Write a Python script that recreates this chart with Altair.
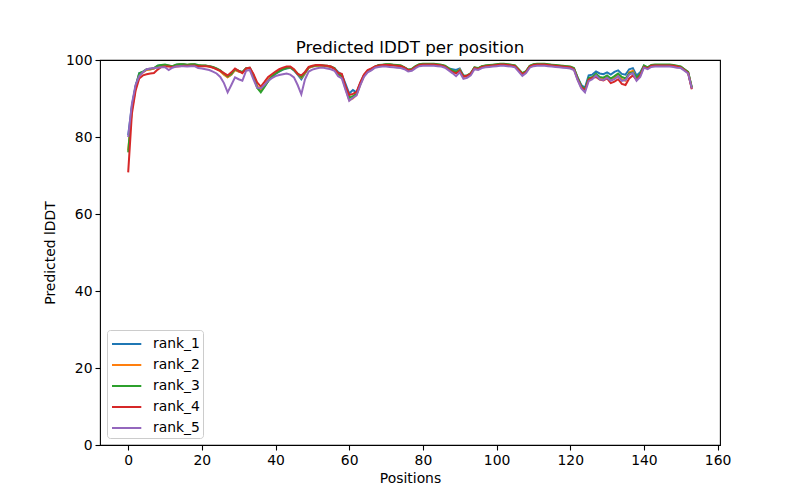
import altair as alt
import pandas as pd

positions = list(range(154))

rank_1 = [
    80.5, 88.0, 93.2, 96.6, 96.9, 97.5, 97.6, 97.8, 98.5, 98.7,
    98.7, 98.5, 98.3, 98.8, 98.9, 98.9, 98.7, 98.8, 98.9, 98.6,
    98.5, 98.5, 98.4, 98.1, 97.7, 97.2, 96.3, 95.6, 96.2, 97.5,
    97.0, 96.8, 97.8, 97.9, 96.0, 93.0, 92.0, 93.2, 94.5, 95.6,
    96.4, 97.0, 97.5, 97.8, 98.0, 97.3, 96.2, 95.0, 96.5, 98.0,
    98.3, 98.5, 98.6, 98.5, 98.4, 98.2, 97.8, 96.9, 96.2, 93.8,
    91.3, 92.2, 91.6, 94.0, 96.0, 97.0, 97.5, 98.2, 98.6, 98.7,
    98.8, 98.8, 98.7, 98.6, 98.5, 98.0, 97.5, 97.6, 98.3, 98.8,
    98.9, 98.9, 98.9, 98.9, 98.8, 98.7, 98.4, 97.8, 97.6, 97.4,
    97.8, 96.0, 95.9, 96.5, 98.0, 97.8, 98.3, 98.5, 98.6, 98.7,
    98.8, 98.9, 98.9, 98.8, 98.7, 98.5, 97.5, 96.5, 97.0, 98.4,
    98.8, 98.9, 98.9, 98.9, 98.8, 98.7, 98.6, 98.5, 98.4, 98.3,
    98.2, 97.8, 95.5, 93.5, 92.8, 96.0, 96.2, 97.0, 96.5, 96.3,
    96.8, 96.2, 96.9, 97.3, 96.4, 96.2, 97.6, 97.9, 96.0, 96.8,
    98.5, 98.0, 98.6, 98.7, 98.7, 98.7, 98.7, 98.7, 98.6, 98.4,
    98.2, 97.5, 96.8, 92.8,
]

rank_2 = [
    76.5, 87.0, 92.5, 96.2, 96.8, 97.4, 97.5, 97.8, 98.4, 98.6,
    98.7, 98.5, 98.3, 98.7, 98.8, 98.8, 98.7, 98.8, 98.8, 98.6,
    98.5, 98.5, 98.3, 98.1, 97.7, 97.1, 96.2, 95.5, 96.2, 97.4,
    97.0, 96.7, 97.7, 97.9, 96.0, 93.2, 92.2, 93.4, 94.8, 95.9,
    96.6, 97.2, 97.7, 98.0, 98.1, 97.5, 96.4, 95.4, 96.6, 98.0,
    98.3, 98.5, 98.6, 98.5, 98.4, 98.2, 97.8, 96.3, 95.6, 92.6,
    89.6, 90.0, 91.0, 93.6, 95.9, 97.0, 97.5, 98.2, 98.6, 98.7,
    98.8, 98.8, 98.7, 98.6, 98.5, 98.0, 97.4, 97.6, 98.3, 98.8,
    98.9, 98.9, 98.9, 98.9, 98.8, 98.7, 98.4, 97.7, 97.0, 96.7,
    97.5, 95.6, 95.8, 96.4, 98.0, 97.8, 98.3, 98.5, 98.6, 98.7,
    98.8, 98.9, 98.9, 98.8, 98.7, 98.5, 97.5, 96.4, 97.0, 98.4,
    98.8, 98.9, 98.9, 98.9, 98.8, 98.7, 98.6, 98.5, 98.4, 98.3,
    98.2, 97.8, 95.2, 93.0, 92.2, 95.0, 95.4, 96.0, 95.2, 95.0,
    95.6, 94.8, 95.3, 96.2, 95.0, 94.6, 96.8, 97.2, 95.0, 96.2,
    98.4, 98.0, 98.6, 98.7, 98.7, 98.7, 98.7, 98.7, 98.6, 98.4,
    98.2, 97.5, 96.8, 92.6,
]

rank_3 = [
    76.0, 87.5, 93.0, 96.5, 97.0, 97.6, 97.7, 97.9, 98.5, 98.7,
    98.8, 98.6, 98.4, 98.8, 98.9, 98.9, 98.8, 98.9, 98.9, 98.7,
    98.6, 98.6, 98.4, 98.2, 97.8, 97.3, 96.5, 95.8, 96.4, 97.6,
    97.2, 96.9, 97.9, 98.0, 96.0, 92.8, 91.6, 93.0, 94.5, 95.7,
    96.5, 97.1, 97.6, 97.9, 98.1, 97.4, 96.5, 95.6, 96.8, 98.1,
    98.4, 98.6, 98.7, 98.6, 98.5, 98.3, 97.9, 96.4, 95.8, 93.0,
    90.2, 90.6, 91.2, 93.8, 96.0, 97.1, 97.6, 98.3, 98.7, 98.8,
    98.9, 98.9, 98.8, 98.7, 98.6, 98.1, 97.5, 97.7, 98.4, 98.9,
    99.0, 99.0, 99.0, 99.0, 98.9, 98.8, 98.5, 97.9, 97.3, 96.9,
    97.4, 95.9, 96.0, 96.6, 98.1, 97.9, 98.4, 98.6, 98.7, 98.8,
    98.9, 99.0, 99.0, 98.9, 98.8, 98.6, 97.6, 96.6, 97.1, 98.5,
    98.9, 99.0, 99.0, 99.0, 98.9, 98.8, 98.7, 98.6, 98.5, 98.4,
    98.3, 97.9, 95.4, 93.2, 92.4, 95.3, 95.6, 96.4, 95.6, 95.4,
    96.0, 95.2, 95.8, 96.5, 95.6, 95.2, 96.5, 96.8, 95.5, 96.3,
    98.6, 98.1, 98.7, 98.8, 98.8, 98.8, 98.8, 98.8, 98.7, 98.5,
    98.3, 97.6, 96.9, 92.9,
]

rank_4 = [
    70.8, 86.0, 92.0, 95.2, 96.0, 96.3, 96.5, 96.6, 97.5, 98.2,
    98.3, 98.3, 98.2, 98.3, 98.4, 98.5, 98.5, 98.5, 98.6, 98.4,
    98.4, 98.4, 98.3, 98.0, 97.6, 97.2, 96.6, 96.0, 96.8, 97.8,
    97.2, 96.6, 97.8, 98.0, 96.4, 94.2, 93.1, 94.3, 95.6, 96.3,
    97.0, 97.6, 98.0, 98.3, 98.3, 97.6, 96.4, 96.0, 96.9, 98.2,
    98.5, 98.7, 98.7, 98.6, 98.5, 98.3, 97.7, 96.6, 96.4, 93.2,
    90.9, 91.2, 91.7, 94.2, 96.2, 97.4, 97.8, 98.3, 98.6, 98.7,
    98.7, 98.7, 98.6, 98.5, 98.4, 98.0, 97.4, 97.5, 98.2, 98.7,
    98.8, 98.8, 98.8, 98.8, 98.7, 98.6, 98.3, 97.6, 96.9, 96.5,
    97.2, 95.7, 95.9, 96.5, 97.9, 97.7, 98.2, 98.4, 98.5, 98.6,
    98.7, 98.8, 98.8, 98.7, 98.6, 98.4, 97.4, 96.3, 96.9, 98.3,
    98.7, 98.8, 98.8, 98.8, 98.7, 98.6, 98.5, 98.4, 98.3, 98.2,
    98.1, 97.6, 95.0, 92.9, 92.1, 94.9, 95.4, 95.6, 94.9, 94.7,
    95.2, 94.0, 94.4, 95.0, 93.8, 93.5, 95.2, 96.0, 94.8, 96.0,
    98.2, 97.8, 98.5, 98.6, 98.6, 98.6, 98.6, 98.6, 98.5, 98.3,
    98.1, 97.4, 96.6, 92.4,
]

rank_5 = [
    80.0, 88.5, 93.5, 95.8, 96.8, 97.6, 97.8, 97.9, 98.0, 98.1,
    98.1, 97.4, 98.0, 98.3, 98.4, 98.4, 98.3, 98.4, 98.4, 97.9,
    97.8, 97.6, 97.4, 97.0, 96.5, 95.6, 94.0, 91.6, 93.5, 95.5,
    95.0, 94.6, 97.2, 97.4, 95.0, 92.8, 92.6, 93.5, 94.6, 95.3,
    95.8, 96.1, 96.3, 96.5, 96.2, 95.5, 93.5, 91.1, 95.0, 97.0,
    97.5, 97.8, 98.0, 98.0, 97.8, 97.6, 97.2, 95.8, 95.2, 92.2,
    89.4, 90.2, 90.8, 93.4, 95.6, 96.8, 97.3, 98.0, 98.2, 98.3,
    98.3, 98.2, 98.1, 98.0, 97.9, 97.6, 97.0, 97.2, 97.9, 98.4,
    98.5, 98.5, 98.5, 98.5, 98.4, 98.3, 98.0, 97.3, 96.6, 95.8,
    96.8, 95.1, 95.4, 96.0, 97.6, 97.4, 97.9, 98.1, 98.2, 98.3,
    98.4, 98.5, 98.5, 98.4, 98.3, 98.1, 97.0, 95.9, 96.6, 98.0,
    98.4, 98.5, 98.5, 98.5, 98.4, 98.3, 98.2, 98.1, 98.0, 97.9,
    97.8, 97.4, 94.8, 92.6, 91.6, 94.5, 95.0, 96.0, 95.0, 94.8,
    95.4, 94.6, 95.0, 95.8, 94.6, 94.8, 96.2, 96.6, 94.6, 95.6,
    98.0, 97.6, 98.2, 98.3, 98.3, 98.3, 98.3, 98.3, 98.2, 98.0,
    97.9, 97.2, 96.5, 92.6,
]

series_names = ["rank_1", "rank_2", "rank_3", "rank_4", "rank_5"]
series_values = [rank_1, rank_2, rank_3, rank_4, rank_5]
colors = ["#1f77b4", "#ff7f0e", "#2ca02c", "#d62728", "#9467bd"]
x_ticks = [0, 20, 40, 60, 80, 100, 120, 140, 160]
y_ticks = [0, 20, 40, 60, 80, 100]

rows = []
for name, vals in zip(series_names, series_values):
    for p, v in zip(positions, vals):
        rows.append({"Positions": p, "lDDT": v, "series": name})
df = pd.DataFrame(rows)

FONT = "DejaVu Sans"

chart = alt.Chart(df).mark_line(strokeWidth=2, clip=True).encode(
    x=alt.X("Positions:Q",
            scale=alt.Scale(domain=[-7.65, 160.65], nice=False, zero=False),
            axis=alt.Axis(values=x_ticks, title="Positions", format="d")),
    y=alt.Y("lDDT:Q",
            scale=alt.Scale(domain=[0, 100], nice=False),
            axis=alt.Axis(values=y_ticks, title="Predicted lDDT", format="d")),
    color=alt.Color("series:N",
                    scale=alt.Scale(domain=series_names, range=colors),
                    legend=alt.Legend(title=None, orient="bottom-left",
                                      symbolType="M-0.9,0H2.03", symbolSize=400,
                                      symbolStrokeWidth=2, offset=7,
                                      labelFontSize=13.9, labelFont=FONT,
                                      labelColor="black", rowPadding=3,
                                      labelOffset=21,
                                      padding=3, fillColor="white",
                                      strokeColor="#cccccc", cornerRadius=3)),
    order=alt.Order("Positions:Q"),
).properties(
    width=620, height=385,
    title=alt.TitleParams("Predicted lDDT per position", font=FONT, fontSize=16.7,
                          fontWeight="normal", color="black", offset=8,
                          frame="group", dy=12),
    autosize=alt.AutoSizeParams(type="none"),
    padding={"left": 92, "top": 52, "right": 72, "bottom": 40},
).configure_view(
    stroke="black", strokeWidth=1.1
).configure_axis(
    domain=False, grid=False, ticks=True, tickColor="black", tickSize=5,
    tickWidth=1.1, labelFont=FONT, labelFontSize=13.9, labelColor="black",
    titleFont=FONT, titleFontSize=13.9, titleFontWeight="normal",
    titleColor="black", labelPadding=3,
).configure_axisX(titlePadding=5).configure_axisY(titlePadding=8)

chart.save("out.html", embed_options={"renderer": "svg", "actions": False})
